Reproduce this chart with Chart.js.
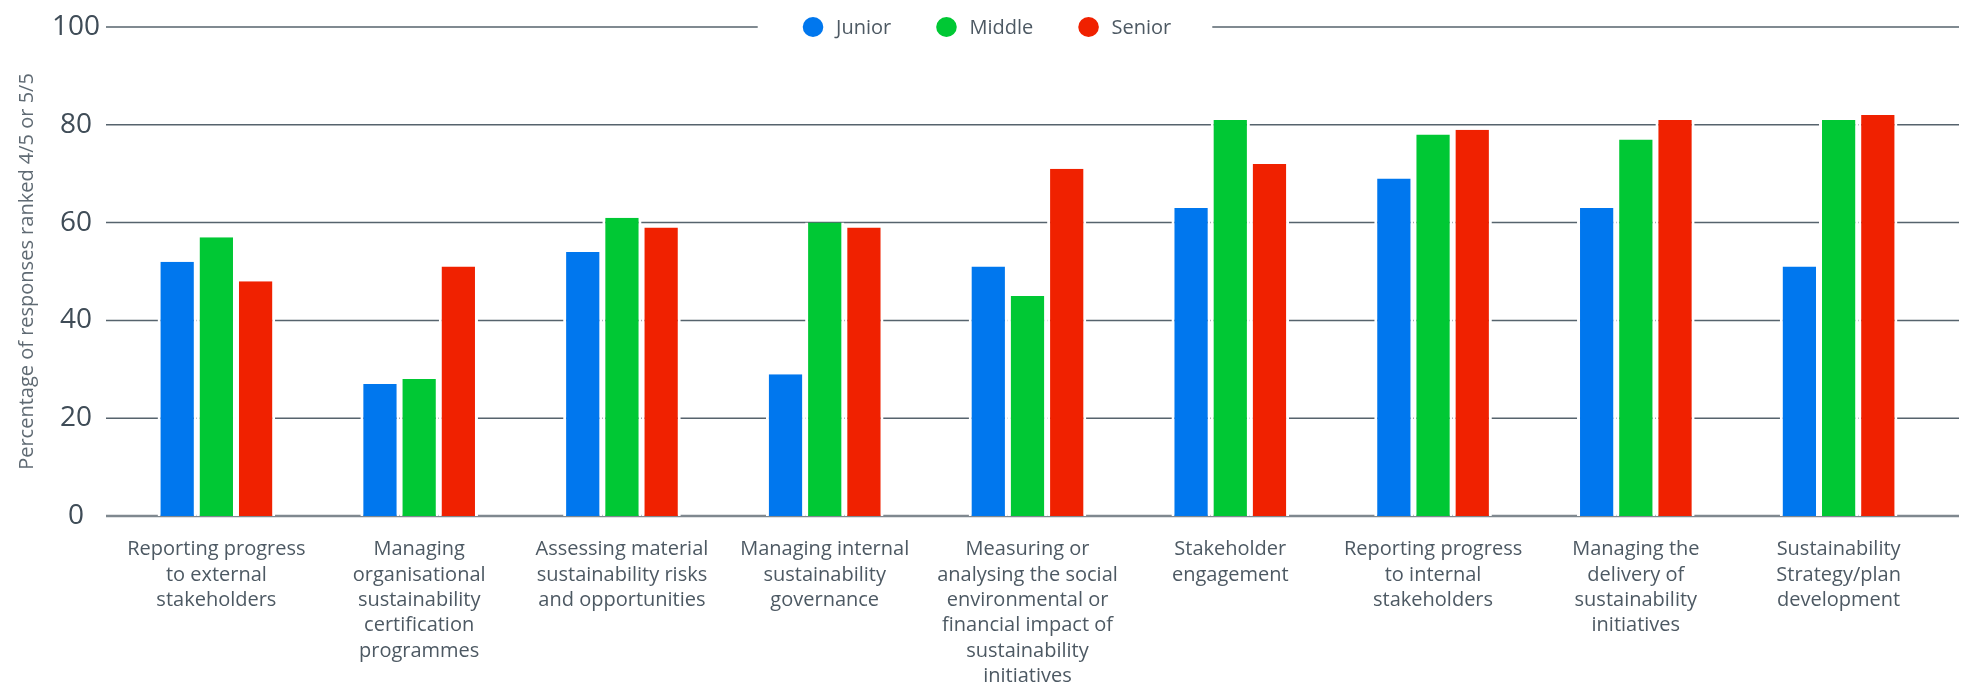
<!DOCTYPE html>
<html>
<head>
<meta charset="utf-8">
<script src="https://cdn.jsdelivr.net/npm/chart.js@4.4.0/dist/chart.umd.min.js"></script>
<style>
  html, body { margin: 0; padding: 0; background: #ffffff; }
  #wrap { width: 1966px; height: 686px; position: relative; }
  canvas { display: block; }
</style>
</head>
<body>
<div id="wrap"><canvas id="chart" width="1966" height="686"></canvas></div>
<script>
// Skill areas (multi-line axis labels)
const categories = [
  ['Reporting progress', 'to external', 'stakeholders'],
  ['Managing', 'organisational', 'sustainability', 'certification', 'programmes'],
  ['Assessing material', 'sustainability risks', 'and opportunities'],
  ['Managing internal', 'sustainability', 'governance'],
  ['Measuring or', 'analysing the social', 'environmental or', 'financial impact of', 'sustainability', 'initiatives'],
  ['Stakeholder', 'engagement'],
  ['Reporting progress', 'to internal', 'stakeholders'],
  ['Managing the', 'delivery of', 'sustainability', 'initiatives'],
  ['Sustainability', 'Strategy/plan', 'development']
];

// Share of responses ranked 4/5 or 5/5, by seniority
const seriesNames = ['Junior', 'Middle', 'Senior'];
const junior = [52, 27, 54, 29, 51, 63, 69, 63, 51];
const middle = [57, 28, 61, 60, 45, 81, 78, 77, 81];
const senior = [48, 51, 59, 59, 71, 72, 79, 81, 82];
const seriesColors = ['#0077ee', '#00c834', '#f02100'];

const yTicks = [0, 20, 40, 60, 80, 100];
const yTitle = 'Percentage of responses ranked 4/5 or 5/5';

const FONT = '"Open Sans", Lato, "Liberation Sans", sans-serif';
const TEXT_DARK = '#3f4c57';
const TEXT_MID = '#4d5963';

// Horizontal guide lines that run slightly past the bar area
const guideLines = {
  id: 'guideLines',
  beforeDatasetsDraw(chart) {
    const { ctx, chartArea } = chart;
    const y = chart.scales.y;
    const x0 = chartArea.left - 9;
    const x1 = chartArea.right + 19;
    ctx.save();
    y.ticks.forEach(t => {
      const py = y.getPixelForValue(t.value);
      ctx.beginPath();
      if (t.value === 0) {
        ctx.lineWidth = 2.5;
        ctx.strokeStyle = '#7f888f';
      } else {
        ctx.lineWidth = 1.5;
        ctx.strokeStyle = '#56636d';
      }
      ctx.moveTo(x0, py);
      ctx.lineTo(x1, py);
      ctx.stroke();
    });
    ctx.restore();
  }
};

// Legend sitting on the top guide line, with a white backing
const topLegend = {
  id: 'topLegend',
  afterDraw(chart) {
    const { ctx, chartArea } = chart;
    ctx.save();
    ctx.font = '20px ' + FONT;
    const items = chart.data.datasets.map(d => ({
      label: d.label,
      color: d.backgroundColor,
      w: ctx.measureText(d.label).width
    }));
    const rx = 10.3, ry = 10, gapText = 12.7, gapItem = 45;
    const total = items.reduce((s, it) => s + 2 * rx + gapText + it.w, 0) + gapItem * (items.length - 1);
    const cy = chartArea.top;
    let x = chart.width / 2 + 4 - total / 2;
    ctx.fillStyle = '#ffffff';
    ctx.fillRect(x - 45, cy - 12, total + 86, 24);
    items.forEach(it => {
      ctx.fillStyle = it.color;
      ctx.beginPath();
      ctx.ellipse(x + rx, cy, rx, ry, 0, 0, Math.PI * 2);
      ctx.fill();
      ctx.fillStyle = TEXT_MID;
      ctx.textBaseline = 'middle';
      ctx.textAlign = 'left';
      ctx.fillText(it.label, x + 2 * rx + gapText, cy + 1);
      x += 2 * rx + gapText + it.w + gapItem;
    });
    ctx.restore();
  }
};

function makeDataset(i, values) {
  return {
    label: seriesNames[i],
    data: values,
    backgroundColor: seriesColors[i],
    borderColor: '#ffffff',
    borderWidth: { left: 3, right: 3, top: 0, bottom: 0 },
    borderSkipped: 'start',
    categoryPercentage: 0.58,
    barPercentage: 1
  };
}

function draw() {
  new Chart(document.getElementById('chart'), {
    type: 'bar',
    data: {
      labels: categories,
      datasets: [
        makeDataset(0, junior),
        makeDataset(1, middle),
        makeDataset(2, senior)
      ]
    },
    plugins: [guideLines, topLegend],
    options: {
      responsive: false,
      animation: false,
      devicePixelRatio: 1,
      layout: { padding: { top: 27, right: 26, bottom: 0, left: 0 } },
      plugins: {
        legend: { display: false },
        tooltip: { enabled: false }
      },
      scales: {
        x: {
          offset: true,
          grid: { display: false, drawTicks: false },
          border: { display: false },
          ticks: {
            autoSkip: false,
            maxRotation: 0,
            minRotation: 0,
            padding: 21,
            color: TEXT_MID,
            font: { family: FONT, size: 20, lineHeight: 1.265 }
          },
          afterFit(scale) { scale.height = 170; }
        },
        y: {
          min: 0,
          max: 100,
          afterBuildTicks(scale) { scale.ticks = yTicks.map(v => ({ value: v })); },
          grid: { display: false, drawTicks: false },
          border: { display: false },
          ticks: {
            crossAlign: 'center',
            padding: 15,
            color: TEXT_DARK,
            font: { family: FONT, size: 28 }
          },
          title: {
            display: true,
            text: yTitle,
            color: '#5f6a73',
            font: { family: FONT, size: 20, lineHeight: 1.2 },
            padding: { top: 15, bottom: 0 }
          },
          afterFit(scale) {
            scale.width = 115;
            // the top guide line sits at the layout padding, not below the tick label
            scale.paddingTop = 0;
            scale.paddingBottom = 0;
          }
        }
      }
    }
  });
}

if (document.fonts && document.fonts.ready) {
  document.fonts.ready.then(draw);
} else {
  draw();
}
</script>
</body>
</html>
